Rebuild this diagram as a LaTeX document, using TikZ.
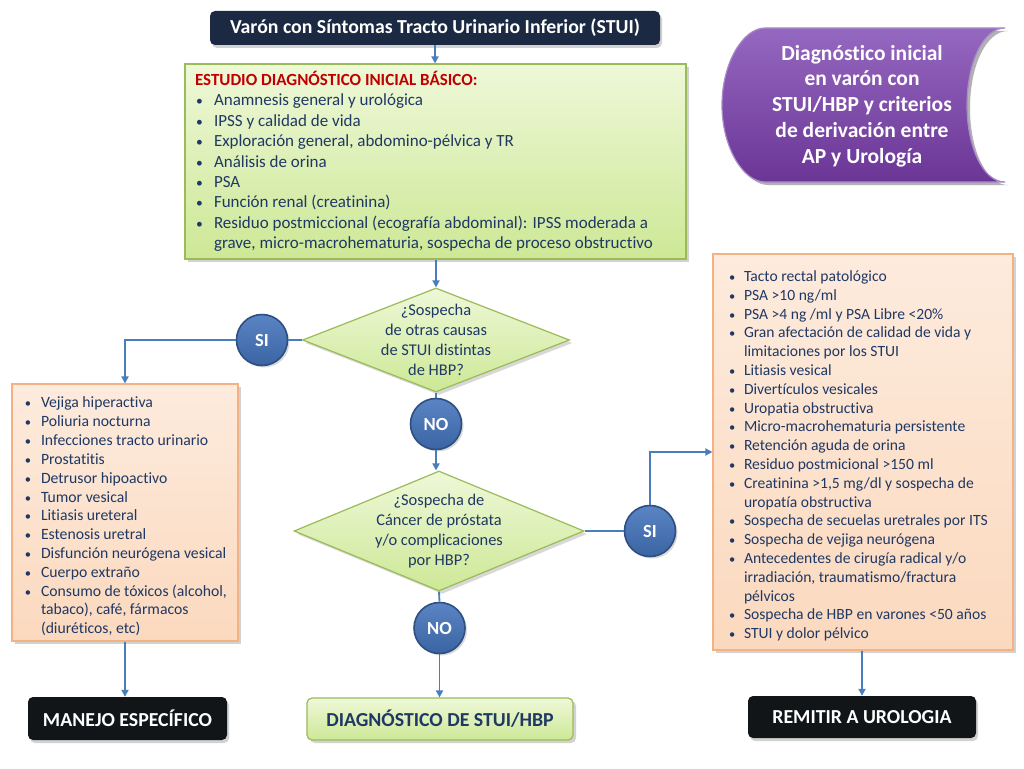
\documentclass[tikz,border=0pt]{standalone}
\usepackage{fontspec}
\setmainfont{Carlito}[Ligatures=NoCommon]
\usetikzlibrary{shapes.geometric,shadows,arrows.meta}
\definecolor{navy}{HTML}{1F3864}
\definecolor{titlebg}{HTML}{1C2942}
\definecolor{blackbg}{HTML}{121517}
\definecolor{connc}{HTML}{4A7EBB}
\definecolor{circtop}{HTML}{5B84C4}
\definecolor{circbot}{HTML}{3A64A2}
\definecolor{circb}{HTML}{2E4F82}
\definecolor{greentop}{HTML}{EEF8D8}
\definecolor{greenbot}{HTML}{CDE896}
\definecolor{greenb}{HTML}{9BBB59}
\definecolor{peachtop}{HTML}{FDEBDD}
\definecolor{peachbot}{HTML}{FBD9BE}
\definecolor{peachb}{HTML}{F4B183}
\definecolor{purtop}{HTML}{9568C0}
\definecolor{purbot}{HTML}{6B3596}
\definecolor{purb}{HTML}{A98BC9}
\definecolor{headred}{HTML}{C00000}
\newlength\bpre
\newlength\bbul
\newcommand\bi[1]{\par\noindent\hangindent=\dimexpr\bpre+\bbul\relax\hspace*{\bpre}\makebox[\bbul][l]{\scalebox{0.8}{\textbullet}}#1}
\begin{document}
\begin{tikzpicture}[x=1pt,y=-1pt,
  conn/.style={draw=connc, line width=1.8pt},
  arr/.style={conn, -{Triangle[length=7pt,width=7pt]}},
  circnode/.style={circle, minimum size=51pt, inner sep=0pt, draw=circb, line width=1.6pt,
    top color=circtop, bottom color=circbot, text=white,
    font=\fontsize{18.5}{18.5}\bfseries\selectfont,
    drop shadow={shadow xshift=2pt, shadow yshift=-2pt, opacity=0.3}},
  darkbox/.style={rounded corners=5pt, fill=#1, text=white, inner sep=0pt,
    font=\fontsize{19.8}{19.8}\bfseries\selectfont,
    drop shadow={shadow xshift=2pt, shadow yshift=-3pt, opacity=0.35}},
  greenbox/.style={draw=greenb, line width=1.2pt, top color=greentop, bottom color=greenbot,
    drop shadow={shadow xshift=3pt, shadow yshift=-3pt, opacity=0.35}},
  peachbox/.style={draw=peachb, line width=1.2pt, top color=peachtop, bottom color=peachbot,
    drop shadow={shadow xshift=3pt, shadow yshift=-3pt, opacity=0.35}},
  listbox/.style={inner xsep=4pt, inner ysep=0pt, text width=#1, align=flush left, text=navy},
  dia/.style={diamond, draw=greenb, line width=1.2pt, top color=greentop, bottom color=greenbot,
    inner sep=0pt, drop shadow={shadow xshift=3pt, shadow yshift=-3pt, opacity=0.3}},
  diatext/.style={align=center, text=navy, font=\fontsize{16.4}{20}\selectfont}
]
\useasboundingbox (0,0) rectangle (1024,768);
\fill[white] (0,0) rectangle (1024,768);

% title
\node[darkbox=titlebg, minimum width=450pt, minimum height=34pt] (title) at (435,28)
  {Varón con Síntomas Tracto Urinario Inferior (STUI)};

% purple banner
\fill[black, opacity=0.3] (768,31) -- (1008,31)
  .. controls (986,31) and (970,66) .. (970,108) .. controls (970,150) and (986,185) .. (1008,185)
  -- (768,185) .. controls (746,185) and (725,150) .. (725,108) .. controls (725,66) and (746,31) .. (768,31) -- cycle;
\path[draw=purb, line width=1.2pt, top color=purtop, bottom color=purbot]
  (765,28) -- (1005,28)
  .. controls (983,28) and (967,63) .. (967,105) .. controls (967,147) and (983,182) .. (1005,182)
  -- (765,182) .. controls (743,182) and (722,147) .. (722,105) .. controls (722,63) and (743,28) .. (765,28) -- cycle;
\node[align=center, text=white, font=\fontsize{21.5}{25.75}\bfseries\selectfont] (banner) at (862,106)
  {Diagnóstico inicial\\en varón con\\STUI/HBP y criterios\\de derivación entre\\AP y Urología};

% green study box
\node[greenbox, listbox=493pt, minimum height=195pt, font=\fontsize{17}{20.4}\selectfont] (study) at (435.5,161.5)
  {\setlength\bpre{7pt}\setlength\bbul{18pt}%
   \noindent\hspace*{6pt}\textcolor{headred}{\bfseries ESTUDIO DIAGNÓSTICO INICIAL BÁSICO:}
   \bi{Anamnesis general y urológica}
   \bi{IPSS y calidad de vida}
   \bi{Exploración general, abdomino-pélvica y TR}
   \bi{Análisis de orina}
   \bi{PSA}
   \bi{Función renal (creatinina)}
   \bi{Residuo postmiccional (ecografía abdominal): IPSS moderada a\newline grave, micro-macrohematuria, sospecha de proceso obstructivo}\par};

% diamonds
\node[dia, minimum width=267pt, minimum height=104pt] (d1) at (436,340) {};
\node[diatext] (d1t) at (d1.center) {¿Sospecha\\de otras causas\\de STUI distintas\\de HBP?};
\node[dia, minimum width=290pt, minimum height=120pt] (d2) at (439,531) {};
\node[diatext] (d2t) at (d2.center) {¿Sospecha de\\Cáncer de próstata\\y/o complicaciones\\por HBP?};

% circles
\node[circnode] (si1) at (262,340) {SI};
\node[circnode] (no1) at (436,424) {NO};
\node[circnode] (si2) at (650,531) {SI};
\node[circnode] (no2) at (439.5,628) {NO};

% left box
\node[peachbox, listbox=218pt, minimum height=257pt, font=\fontsize{15.7}{18.83}\selectfont] (left) at (125,512.5)
  {\setlength\bpre{9pt}\setlength\bbul{16pt}%
   \bi{Vejiga hiperactiva}
   \bi{Poliuria nocturna}
   \bi{Infecciones tracto urinario}
   \bi{Prostatitis}
   \bi{Detrusor hipoactivo}
   \bi{Tumor vesical}
   \bi{Litiasis ureteral}
   \bi{Estenosis uretral}
   \bi{Disfunción neurógena vesical}
   \bi{Cuerpo extraño}
   \bi{Consumo de tóxicos (alcohol,\newline tabaco), café, fármacos\newline (diuréticos, etc)}\par};

% right box
\node[peachbox, listbox=292pt, minimum height=396pt, font=\fontsize{15.6}{18.8}\selectfont] (right) at (863,452)
  {\setlength\bpre{12pt}\setlength\bbul{15pt}%
   \bi{Tacto rectal patológico}
   \bi{PSA >10 ng/ml}
   \bi{PSA >4 ng /ml y PSA Libre <20\%}
   \bi{Gran afectación de calidad de vida y\newline limitaciones por los STUI}
   \bi{Litiasis vesical}
   \bi{Divertículos vesicales}
   \bi{Uropatia obstructiva}
   \bi{Micro-macrohematuria persistente}
   \bi{Retención aguda de orina}
   \bi{Residuo postmicional >150 ml}
   \bi{Creatinina >1,5 mg/dl y sospecha de\newline uropatía obstructiva}
   \bi{Sospecha de secuelas uretrales por ITS}
   \bi{Sospecha de vejiga neurógena}
   \bi{Antecedentes de cirugía radical y/o\newline irradiación, traumatismo/fractura\newline pélvicos}
   \bi{Sospecha de HBP en varones <50 años}
   \bi{STUI y dolor pélvico}\par};

% bottom boxes
\node[darkbox=blackbg, minimum width=199pt, minimum height=43pt] (manejo) at (127.5,718.5) {MANEJO ESPECÍFICO};
\node[greenbox, rounded corners=5pt, minimum width=266pt, minimum height=42pt, inner sep=0pt,
  text=navy, font=\fontsize{19.8}{19.8}\bfseries\selectfont] (diag) at (440,719) {DIAGNÓSTICO DE STUI/HBP};
\node[darkbox=blackbg, minimum width=228pt, minimum height=42pt] (remitir) at (862,717) {REMITIR A UROLOGIA};

% connectors
\draw[arr] (title.south) -- (title.south |- study.north);
\draw[arr] (d1.north |- study.south) -- (d1.north);
\draw[conn] (d1.west) -- (si1.east);
\draw[arr] (si1.west) -| (left.north);
\draw[conn] (d1.south) -- (no1.north);
\draw[arr] (no1.south) -- (no1.south |- d2.north);
\draw[conn] (d2.south) -- (no2.north);
\draw[arr] (no2.south) -- (no2.south |- diag.north);
\draw[conn] (d2.east) -- (si2.west);
\draw[arr] (si2.north) |- (right.west);
\draw[arr] (left.south) -- (left.south |- manejo.north);
\draw[arr] (remitir.north |- right.south) -- (remitir.north);
\end{tikzpicture}
\end{document}
